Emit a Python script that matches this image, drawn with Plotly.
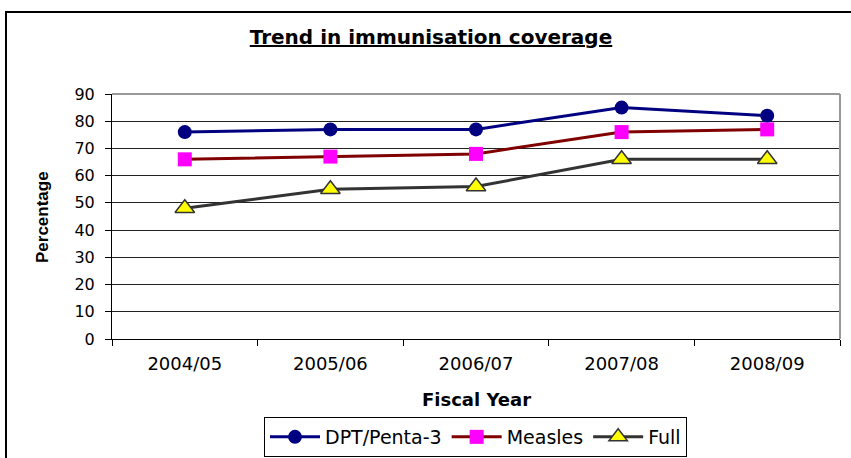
import plotly.graph_objects as go

years = ["2004/05", "2005/06", "2006/07", "2007/08", "2008/09"]
dpt_penta3 = [76, 77, 77, 85, 82]
measles = [66, 67, 68, 76, 77]
full = [48, 55, 56, 66, 66]
y_ticks = [0, 10, 20, 30, 40, 50, 60, 70, 80, 90]

WIDE = "DejaVu Sans, Verdana, sans-serif"
ARIAL = "Liberation Sans, Arial, sans-serif"

# plot area in pixels: x 112..840, y 94..339
L, R, T, B = 112, 840, 94, 339
W, H = 851, 458
PW, PH = R - L, B - T


def px_x(x):
    return (x - L) / PW


def px_y(y):
    return (B - y) / PH


fig = go.Figure()
fig.add_trace(go.Scatter(
    x=years, y=dpt_penta3, name="DPT/Penta-3", mode="lines+markers",
    line=dict(color="#000080", width=3),
    marker=dict(symbol="circle", size=14, color="#000080"),
))
fig.add_trace(go.Scatter(
    x=years, y=measles, name="Measles", mode="lines+markers",
    line=dict(color="#800000", width=3),
    marker=dict(symbol="square", size=14, color="#FF00FF"),
))
fig.add_trace(go.Scatter(
    x=years, y=full, name="Full", mode="lines+markers",
    line=dict(color="#333333", width=3),
    marker=dict(symbol="triangle-up", size=17, color="#FFFF00",
                line=dict(color="#333333", width=1.5)),
))

fig.update_layout(
    width=W, height=H,
    margin=dict(l=L, r=W - R, t=T, b=H - B, autoexpand=False),
    paper_bgcolor="white", plot_bgcolor="white",
    font=dict(family=WIDE, size=16, color="black"),
    title=dict(
        text="<b><u>Trend in immunisation coverage</u></b>",
        x=431 / W, xref="container", xanchor="center",
        y=1 - 37 / H, yref="container", yanchor="middle",
        font=dict(family=WIDE, size=20),
    ),
    showlegend=True,
    legend=dict(
        orientation="h", x=475.5 / W, xref="container", xanchor="center",
        y=1 - 437 / H, yref="container", yanchor="middle",
        bordercolor="black", borderwidth=1, bgcolor="white",
        font=dict(family=WIDE, size=19), itemwidth=50, tracegroupgap=0,
    ),
    xaxis=dict(
        type="category", range=[-0.5, 4.5], automargin=False,
        tickson="boundaries", ticks="outside", ticklen=6, tickcolor="black",
        showline=True, linecolor="black", linewidth=1, showgrid=False,
        tickfont=dict(family=WIDE, size=18), ticklabelstandoff=8,
    ),
    yaxis=dict(
        range=[0, 90], tickvals=y_ticks, ticks="outside", ticklen=6,
        automargin=False, ticklabelstandoff=7,
        tickcolor="black", showline=True, linecolor="black", linewidth=1,
        showgrid=True, gridcolor="#222222", gridwidth=1,
        tickfont=dict(family=WIDE, size=16),
    ),
    annotations=[
        dict(text="<b>Fiscal Year</b>", xref="paper", yref="paper",
             x=px_x(476), y=px_y(400), showarrow=False,
             xanchor="center", yanchor="middle",
             font=dict(family=WIDE, size=18)),
        dict(text="<b>Percentage</b>", xref="paper", yref="paper",
             x=px_x(42), y=px_y(217), showarrow=False, textangle=-90,
             xanchor="center", yanchor="middle",
             font=dict(family=ARIAL, size=17)),
    ],
)

# gray border on the top and right of the plot area
fig.add_shape(type="line", xref="paper", yref="paper", x0=0, x1=1, y0=1, y1=1,
              line=dict(color="#999999", width=2))
fig.add_shape(type="line", xref="paper", yref="paper", x0=1, x1=1, y0=0, y1=1,
              line=dict(color="#999999", width=2))
# outer chart frame
fig.add_shape(type="rect", xref="paper", yref="paper",
              x0=px_x(6), x1=px_x(870), y0=px_y(480), y1=px_y(12),
              line=dict(color="black", width=2), layer="below")

fig.write_html("out.html")
